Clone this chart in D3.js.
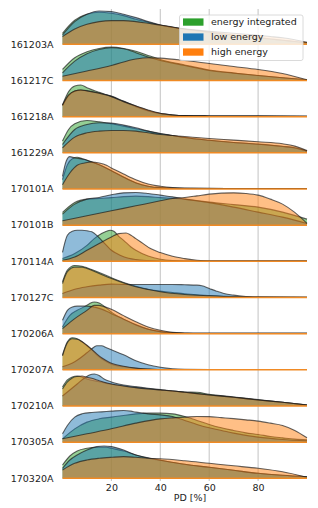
<!DOCTYPE html>
<html>
<head>
<meta charset="utf-8">
<script src="https://cdn.jsdelivr.net/npm/d3@7"></script>
<style>
  html, body { margin: 0; padding: 0; background: #fff; }
  svg { display: block; font-family: "DejaVu Sans", sans-serif; }
</style>
</head>
<body>
<svg id="chart" width="318" height="508"></svg>
<script>
// ---- data (relative density per burst) ----
const bursts = ["161203A","161217C","161218A","161229A","170101A","170101B","170114A",
                "170127C","170206A","170207A","170210A","170305A","170320A"];
const seriesNames = ["energy integrated", "low energy", "high energy"];
const seriesColors = ["#2ca02c", "#1f77b4", "#ff7f0e"];
const xTicks = [20, 40, 60, 80];
const xLabel = "PD [%]";

// [PD %, density] pairs, one array per burst
const energyIntegrated = [
  [[0,11],[5,24],[10,30],[15,32],[20,31],[25,28.7],[30,25],[35,22],[40,19],[45,17],[50,15],[55,13.7],[60,12],[65,10.5],[70,9],[75,7.8],[80,6.5],[85,5.3],[90,4],[95,2.8],[100,1.5]],
  [[0,11],[5,22.7],[10,28.7],[15,32],[20,33.3],[25,32],[30,29.3],[35,25],[40,21],[50,15.5],[60,10.5],[70,7.5],[80,5],[90,2.7],[100,0.7]],
  [[0,11.7],[2.5,25],[5,30.7],[7.5,31.7],[10,29],[15,24.3],[20,20],[25,15],[30,10],[35,5.7],[40,3],[45,1.7],[50,1],[60,0.7],[80,0.5],[100,0.4]],
  [[0,11.7],[2.5,23.3],[5,29],[10,32.3],[15,31],[20,29],[25,26.7],[30,24],[35,21.7],[40,19],[45,17.3],[50,15.3],[60,12.5],[70,10.3],[80,8.5],[90,6.3],[95,4.8],[100,1.7]],
  [[0,9.3],[2,24.3],[4,30.3],[6,31.7],[8,30.3],[10,28.7],[13,26.3],[15,24.3],[20,18.3],[25,12],[30,6.3],[35,2.8],[40,1.3],[50,0.7],[70,0.5],[100,0.4]],
  [[0,12.7],[5,22.7],[10,26],[15,26.7],[20,27.5],[25,28.5],[30,29],[35,28.5],[40,27.5],[50,26],[60,23],[70,20.5],[80,18],[90,13],[100,6]],
  [[0,2.7],[5,7.7],[10,16],[13,22.7],[16,27.7],[18,30],[19.5,31],[21,30],[23,25],[25,21],[28,14.3],[30,11],[35,5.3],[40,2],[45,0.7],[50,0.3],[100,0.3]],
  [[0,15.7],[2,27.3],[5,32],[8,31.3],[10,29.7],[15,25],[20,19.7],[25,15],[30,11.3],[35,8.3],[40,6.3],[45,5],[50,3.7],[55,2.7],[60,2],[70,1],[80,0.3],[100,0.2]],
  [[0,6.7],[3,18.3],[6,23.3],[9,27],[11,30],[13,31.7],[15,30.7],[17,27.5],[20,21.5],[25,14.5],[30,8.7],[35,4.3],[40,2],[45,0.8],[50,0.4],[100,0.3]],
  [[0,15],[2,28],[4,32],[6,31],[8,28],[10,24],[12,20],[14,15],[16,11],[18,8],[20,5.5],[25,3],[30,1.5],[35,0.7],[40,0.3],[100,0.3]],
  [[0,19],[2,26],[4,29],[6,30],[8,29],[10,27],[15,24.3],[20,21.7],[30,18.3],[40,16],[50,14],[55,13.7],[60,11.7],[70,9],[80,6.3],[90,3.7],[100,1]],
  [[0,3.3],[5,13.3],[10,20],[15,23.3],[20,25],[25,26.7],[30,28.3],[35,29],[40,29],[45,28.3],[50,25.7],[55,21.7],[60,17.7],[65,14.3],[70,11.7],[75,9.3],[80,7.7],[85,5.7],[90,4.3],[95,3],[100,2.3]],
  [[0,13.3],[3,22.3],[6,27.3],[10,30],[14,31],[18,31],[20,30],[25,27.3],[30,23.3],[35,20],[40,18],[50,14],[60,11],[70,8],[80,5],[90,3],[100,1.5]]
];
const lowEnergy = [
  [[0,9.3],[5,22.7],[10,30],[15,33.3],[20,32.7],[25,30],[30,26.7],[35,22.7],[40,19.3],[45,17],[50,15],[55,13.5],[60,12],[65,10.5],[70,9],[75,7.8],[80,6.5],[85,5.3],[90,4],[95,2.8],[100,1.5]],
  [[0,7.7],[5,19.3],[10,26.7],[15,31],[20,32.7],[25,31.7],[30,27.7],[35,23.5],[40,20],[50,15],[60,10],[70,7.3],[80,5],[90,2.7],[100,0.7]],
  [[0,11],[2.5,21],[5,25.5],[7.5,26.5],[10,26],[15,23.5],[20,20.5],[25,15.5],[30,10.5],[35,6.2],[40,3.2],[45,1.7],[50,1],[60,0.7],[80,0.5],[100,0.4]],
  [[0,8.3],[5,23.3],[10,28.3],[15,30],[20,29.7],[25,27.7],[30,25],[35,21.7],[40,19.3],[45,17.3],[50,15.3],[60,12.5],[70,10.3],[80,8.7],[90,6.5],[95,5],[100,1.7]],
  [[0,12.7],[1.5,27.7],[3,32.3],[5,31],[7,30.3],[9,29.7],[11,27.7],[13,26],[15,24.3],[20,18.3],[25,11.7],[30,6],[35,2.7],[40,1.3],[50,0.7],[70,0.5],[100,0.4]],
  [[0,11],[5,21],[10,26],[15,27.7],[20,30.3],[25,32.3],[30,32.7],[35,31.7],[40,30],[45,28.3],[50,26],[60,22.5],[70,18],[80,13],[90,8],[100,1.7]],
  [[0,9],[2,26],[4,30],[6,31],[8,31],[10,30.5],[12,29.5],[14,26],[16,21],[18,16],[20,11],[22,8],[25,4.5],[30,1.7],[35,0.7],[40,0.3],[100,0.3]],
  [[0,4],[5,8.3],[10,10.7],[15,12.3],[20,13.3],[25,13],[30,13],[35,13],[40,13],[45,13],[50,12.7],[55,12.3],[57,11.7],[60,9],[63,6.3],[66,4],[70,2.3],[75,1],[80,0.3],[100,0.2]],
  [[0,13.3],[2,23.3],[4,26.7],[6,27.5],[8,27.5],[10,27.5],[12,27],[14,26],[16,24.5],[18,22.5],[20,20],[25,14.5],[30,9],[35,4.5],[40,2],[45,0.8],[50,0.4],[100,0.3]],
  [[0,3],[5,8],[10,17],[12,21],[14,24],[16,24],[18,22],[20,20],[25,15],[30,9],[35,5],[40,2.5],[45,1],[50,0.5],[60,0.3],[100,0.3]],
  [[0,10],[3,16],[6,22],[9,28],[11,31],[13,32],[15,30.5],[17,27],[20,24],[25,21],[30,19.3],[35,17.7],[40,16.3],[45,15],[50,13.7],[60,11],[70,8.7],[80,6],[90,3.7],[100,1]],
  [[0,8.3],[2,16.7],[5,25],[8,28.3],[12,29.7],[16,30.3],[20,31],[25,31.7],[28,31],[30,30],[33,29],[35,28.3],[40,27.3],[45,25.7],[50,21.7],[55,17.7],[60,14.3],[65,11.7],[70,9],[80,5],[90,2.7],[100,1.3]],
  [[0,10],[3,18.3],[6,23.3],[10,28.3],[14,31.7],[17,32.3],[20,31.7],[25,28.3],[30,23.3],[35,20.5],[40,18],[50,14],[60,11],[70,8],[80,5],[90,3],[100,1.5]]
];
const highEnergy = [
  [[0,7.7],[5,15.3],[10,20],[15,22.7],[20,23.7],[25,23.7],[30,22.7],[35,21],[40,19.3],[45,17.3],[50,15.5],[55,14.2],[60,13],[65,12],[70,11],[75,10],[80,9],[85,7.8],[90,6.5],[95,4.5],[100,2]],
  [[0,4.3],[10,9.5],[20,15],[30,21.5],[35,22.7],[40,22.3],[50,20],[60,17],[70,14],[80,11],[90,7],[100,0.7]],
  [[0,11.7],[2.5,21.7],[5,25.7],[7.5,26.7],[10,25.7],[15,23.3],[20,20],[25,15],[30,10.7],[35,6.7],[40,3.3],[45,1.7],[50,1],[60,0.7],[80,0.5],[100,0.4]],
  [[0,5],[5,15.7],[10,20],[15,21.7],[20,22.3],[25,22.3],[30,21.7],[35,20],[40,18.3],[45,17.3],[50,16.3],[60,14.3],[70,12.7],[80,11],[90,9],[95,6.7],[100,2.3]],
  [[0,4.3],[3,16],[6,23.7],[9,26],[12,27],[15,26],[18,23.7],[20,21],[25,15],[30,9.3],[35,5],[40,2.7],[45,1.3],[50,0.7],[70,0.5],[100,0.4]],
  [[0,4.3],[10,9.3],[20,14.3],[30,19.3],[40,24.3],[45,26.7],[50,27.7],[55,29.3],[60,31],[65,32],[70,32.3],[75,31.7],[80,30],[85,26],[90,21],[95,12.7],[100,1.7]],
  [[0,1],[5,4.3],[10,11],[15,17.7],[20,24.3],[23,27.7],[26,28.3],[28,26],[30,22.7],[33,17.7],[36,12.7],[40,8.7],[45,5],[50,2.7],[55,1],[60,0.3],[100,0.3]],
  [[0,14],[2,25.7],[5,30.3],[8,30.3],[10,29],[15,24],[20,19],[25,14.5],[30,10.7],[35,8],[40,5.7],[50,3],[60,1.7],[70,0.7],[80,0.3],[100,0.2]],
  [[0,5],[5,15],[10,23.3],[13,28.3],[15,28.3],[17,27],[20,24.3],[25,18],[30,12],[35,6.7],[40,3.3],[45,1.3],[50,0.7],[55,0.3],[100,0.3]],
  [[0,14],[2,27],[4,31],[6,30.5],[8,28],[10,24.5],[12,20.5],[14,16],[16,12],[18,9],[20,6.5],[25,3.5],[30,1.7],[35,0.8],[40,0.3],[100,0.3]],
  [[0,17],[2,24],[4,28],[6,29.5],[8,30],[10,28.7],[12,27.7],[15,25.3],[20,22],[25,20],[30,18.3],[35,17],[40,16],[45,15],[50,13.7],[60,11],[70,8.7],[80,6],[90,3.7],[100,1]],
  [[0,3.3],[10,8.3],[20,13.3],[30,19],[40,23.3],[45,24.3],[50,25],[55,25.7],[60,25.5],[65,24.5],[70,23.5],[75,22.3],[80,21],[85,19],[90,16.7],[95,11.7],[100,4.3]],
  [[0,8.3],[5,15],[10,18.3],[15,20],[20,21],[25,21.7],[30,21],[35,20],[40,19.5],[50,17.5],[60,15],[70,12.5],[80,10],[90,6.5],[100,1]]
];

// ---- layout ----
const svg = d3.select("#chart");
const x = d3.scaleLinear().domain([0, 100]).range([62.5, 307]);
const row = d3.scalePoint().domain(bursts).range([44.3, 478.3]);   // row baselines
const y = d3.scaleLinear().domain([0, 33]).range([0, -33]);          // density -> offset above baseline

// grid
svg.append("g").selectAll("line").data(xTicks).join("line")
  .attr("x1", d => x(d)).attr("x2", d => x(d))
  .attr("y1", 9).attr("y2", 481)
  .attr("stroke", "#c8c8c8").attr("stroke-width", 1.1);

const area = d3.area().x(d => x(d[0])).y0(0).y1(d => y(d[1])).curve(d3.curveMonotoneX);
const line = d3.line().x(d => x(d[0])).y(d => y(d[1])).curve(d3.curveMonotoneX);
const allSeries = [energyIntegrated, lowEnergy, highEnergy];

bursts.forEach((b, i) => {
  const g = svg.append("g").attr("transform", `translate(0,${row(b)})`);
  allSeries.forEach((s, k) => {
    g.append("path").datum(s[i]).attr("d", area)
      .attr("fill", seriesColors[k]).attr("fill-opacity", 0.5);
    g.append("path").datum(s[i]).attr("d", line)
      .attr("fill", "none").attr("stroke", "#1a1a1a").attr("stroke-opacity", 0.68)
      .attr("stroke-width", 1.1);
  });
  g.append("line").attr("x1", x(0)).attr("x2", x(100)).attr("y1", 0).attr("y2", 0)
    .attr("stroke", "#f08a24").attr("stroke-width", 1.5);
  svg.append("text").attr("x", 53.5).attr("y", row(b) + 3.3)
    .attr("text-anchor", "end").attr("font-size", 9.5).attr("fill", "#222").text(b);
});

// x axis
const ax = svg.append("g").attr("transform", "translate(0,481)")
  .call(d3.axisBottom(x).tickValues(xTicks).tickSize(0).tickPadding(3));
ax.select(".domain").remove();
ax.selectAll("text").attr("font-size", 9.5).attr("fill", "#222").attr("font-family", "DejaVu Sans");
svg.append("text").attr("x", 190).attr("y", 500.5).attr("text-anchor", "middle")
  .attr("font-size", 9.5).attr("fill", "#222").text(xLabel);

// legend
const lg = svg.append("g");
lg.append("rect").attr("x", 179.5).attr("y", 15).attr("width", 123.5).attr("height", 45.5)
  .attr("rx", 2).attr("fill", "#fff").attr("fill-opacity", 0.8)
  .attr("stroke", "#d0d0d0").attr("stroke-width", 0.8);
seriesNames.forEach((n, k) => {
  const yy = 22 + k * 15;
  lg.append("rect").attr("x", 183).attr("y", yy - 3.6).attr("width", 20.5).attr("height", 7.3)
    .attr("fill", seriesColors[k]);
  lg.append("text").attr("x", 211).attr("y", yy + 3.3).attr("font-size", 9.5)
    .attr("fill", "#222").text(n);
});
</script>
</body>
</html>
